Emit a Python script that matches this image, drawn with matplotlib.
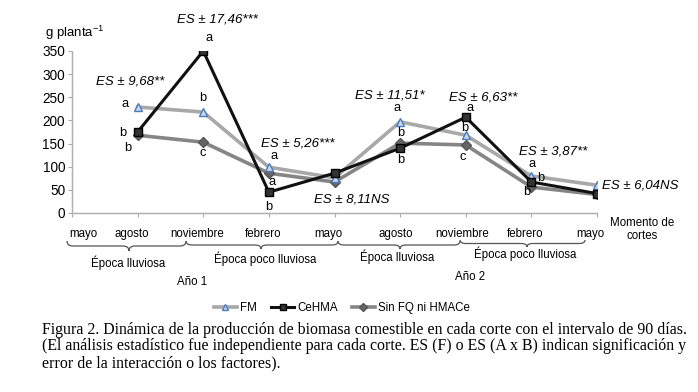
import numpy as np
import matplotlib.pyplot as plt
from matplotlib.path import Path
from matplotlib.patches import PathPatch
from matplotlib.transforms import blended_transform_factory

# Datos (g planta-1) por corte
meses = ['mayo', 'agosto', 'noviembre', 'febrero', 'mayo',
         'agosto', 'noviembre', 'febrero', 'mayo']
cortes = [1, 2, 3, 4, 5, 6, 7, 8]
fm = [229, 218, 99, 76, 197, 168, 80, 60]
cehma = [175, 350, 45, 86, 140, 207, 67, 42]
sin_fq = [168, 153, 86, 67, 151, 147, 56, 40]

es_textos = ['ES ± 9,68**', 'ES ± 17,46***', 'ES ± 5,26***', 'ES ± 8,11NS',
             'ES ± 11,51*', 'ES ± 6,63**', 'ES ± 3,87**', 'ES ± 6,04NS']
letras = ['a', 'b', 'b', 'b', 'a', 'c', 'a', 'a', 'b',
          'a', 'b', 'b', 'a', 'b', 'c', 'a', 'b', 'b']

W, H = 698, 392
fig = plt.figure(figsize=(W / 100, H / 100), dpi=100)
plt.rcParams['font.family'] = ['Liberation Sans', 'DejaVu Sans']


def px(x, y):
    return x / W, 1 - y / H


ax = fig.add_axes([72 / W, 1 - 213 / H, 525 / W, 162 / H])

ax.plot(cortes, fm, color='#a8a8a8', lw=2.6, marker='^', ms=6,
        mfc='#c9d7ea', mec='#4a7bc0', mew=1.0, label='FM', zorder=3)
ax.plot(cortes, cehma, color='#111111', lw=2.2, marker='s', ms=6,
        mfc='#333333', mec='#000000', label='CeHMA', zorder=4)
ax.plot(cortes, sin_fq, color='#858585', lw=2.6, marker='D', ms=5,
        mfc='#666666', mec='#555555', label='Sin FQ ni HMACe', zorder=2)

ax.set_xlim(0, 8)
ax.set_ylim(0, 350)
ax.set_yticks(np.arange(0, 351, 50))
ax.set_xticks(range(9))
ax.set_xticklabels([])
ax.tick_params(axis='y', labelsize=9.8, length=3, color='#aaaaaa', pad=2)
ax.tick_params(axis='x', length=3, color='#aaaaaa')
for s in ['top', 'right']:
    ax.spines[s].set_visible(False)
for s in ['left', 'bottom']:
    ax.spines[s].set_color('#b0b0b0')
    ax.spines[s].set_linestyle((0, (1, 0.6)))
    ax.spines[s].set_linewidth(1.0)

fig.text(*px(45, 33), 'g planta$^{\\mathregular{-1}}$', fontsize=9.5,
         ha='left', va='center')

# etiquetas de meses
tr = blended_transform_factory(ax.transData, fig.transFigure)
desp = [0.17, -0.09, -0.09, -0.09, -0.1, -0.07, -0.05, -0.09, -0.1]
for i, m in enumerate(meses):
    ax.text(i + desp[i], 1 - 234 / H, m, transform=tr, fontsize=8.3,
            ha='center', va='center')
fig.text(*px(642, 223), 'Momento de', fontsize=8.3, ha='center', va='center')
fig.text(*px(642, 236), 'cortes', fontsize=8.3, ha='center', va='center')


# llaves
def llave(x0, x1, xc, y0, y1):
    ym = (y0 + y1) / 2
    r = 6
    verts = [px(x0, y0), px(x0, ym), px(x0 + r, ym), px(xc - r, ym),
             px(xc, ym), px(xc, y1), px(xc, ym), px(xc + r, ym),
             px(x1 - r, ym), px(x1, ym), px(x1, y0)]
    codes = [Path.MOVETO, Path.CURVE3, Path.CURVE3, Path.LINETO,
             Path.CURVE3, Path.CURVE3, Path.CURVE3, Path.CURVE3,
             Path.LINETO, Path.CURVE3, Path.CURVE3]
    fig.add_artist(PathPatch(Path(verts, codes), fc='none', ec='#555555',
                             lw=0.9, transform=fig.transFigure))


llave(67, 186, 129, 241, 251)
llave(186, 338, 261, 241, 249)
llave(338, 460, 400, 241, 249)
llave(460, 585, 527, 240, 247)

for x, y, t in [(128, 263, 'Época lluviosa'), (265, 259, 'Época poco lluviosa'),
                (397, 257, 'Época lluviosa'), (525, 254, 'Época poco lluviosa'),
                (192, 282, 'Año 1'), (470, 277, 'Año 2')]:
    fig.text(*px(x, y), t, fontsize=8.3, ha='center', va='center')

# letras de significacion
pos_letras = [(125, 104), (123, 133), (128, 148),
              (203, 98), (209, 38), (203, 153),
              (274, 156), (272, 182), (269, 207),
              (397, 108), (401, 133), (401, 160),
              (470, 108), (465, 128), (463, 157),
              (532, 164), (541, 178), (527, 192)]
for (x, y), t in zip(pos_letras, letras):
    fig.text(*px(x, y), t, fontsize=9.3, ha='center', va='center')

# textos ES
es_pos = [(130, 82), (217, 20), (298, 144), (352, 200),
          (390, 95), (483, 97), (553, 152), (640, 186)]
for (x, y), t in zip(es_pos, es_textos):
    fig.text(*px(x, y), t, fontsize=9.5, style='italic', ha='center', va='center')

fig.legend(loc='center', bbox_to_anchor=px(342, 308), ncol=3, frameon=False,
           fontsize=8.3, handlelength=2.0, handletextpad=0.3, columnspacing=1.2,
           markerscale=0.8)

caption = ['Figura 2. Dinámica de la producción de biomasa comestible en cada corte con el intervalo de 90 días.',
           '(El análisis estadístico fue independiente para cada corte. ES (F) o ES (A x B) indican significación y',
           'error de la interacción o los factores).']
for k, linea in enumerate(caption):
    fig.text(*px(42, 330 + 16.5 * k), linea, fontsize=11.4, family='Liberation Serif',
             ha='left', va='center')

fig.savefig('out.png', dpi=100)
